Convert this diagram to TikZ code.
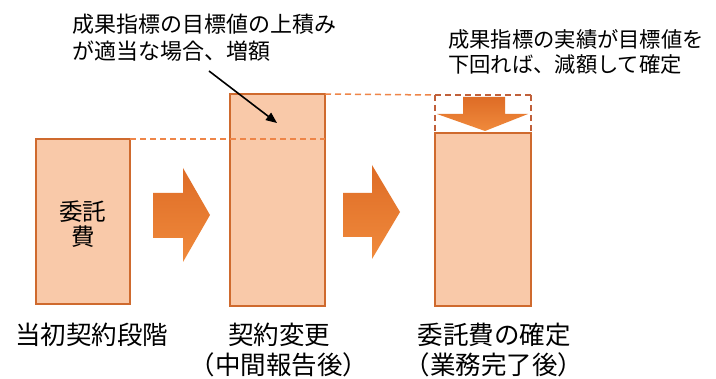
\documentclass[tikz,border=0pt]{standalone}
\usepackage{fontspec}
\setmainfont{Noto Sans CJK JP}
\usetikzlibrary{arrows.meta}
\definecolor{boxfill}{HTML}{F9C9A9}
\definecolor{boxline}{HTML}{CF6A2E}
\definecolor{arrowtop}{HTML}{DE6C26}
\definecolor{arrowbot}{HTML}{F08A3C}
\definecolor{dashor}{HTML}{EE8548}
\definecolor{dashdark}{HTML}{C0603A}
\begin{document}
\begin{tikzpicture}[x=1pt,y=-1pt,
  costbox/.style={draw=boxline,fill=boxfill,line width=1.6pt},
  blockarrow/.style={top color=arrowtop,bottom color=arrowbot,draw=none},
  guide/.style={draw=dashor,line width=1.5pt,dash pattern=on 6pt off 4pt},
  guidedark/.style={draw=dashdark,line width=1.5pt,dash pattern=on 6pt off 4pt},
  lbl/.style={inner sep=0pt,font=\fontsize{25.5}{30}\selectfont},
  note/.style={inner sep=0pt,align=left,anchor=west}]
\useasboundingbox[fill=white] (0,0) rectangle (716,379);
% boxes
\path[costbox] (36,139) rectangle (130,304);
\path[costbox] (230,94) rectangle (325,306);
\path[costbox] (435,133) rectangle (531,306);
\coordinate (b1top) at (130,139);
\coordinate (b2l) at (325,139);
\coordinate (b2top) at (325,94);
\coordinate (b3l) at (435,95);
\coordinate (b3r) at (531,95);
\coordinate (b3lb) at (435,133);
\coordinate (b3rb) at (531,133);
% guides
\draw[guide] (b1top) -- (b2l);
\draw[guide] (b2top) -- (b3l);
\draw[guidedark] (b3l) -- (b3r);
\draw[guidedark] (b3l) -- (b3lb);
\draw[guidedark] (b3r) -- (b3rb);
% block arrows
\path[blockarrow] (153,193) -- (183,193) -- (183,168) -- (210,215) -- (183,262) -- (183,238) -- (153,238) -- cycle;
\path[blockarrow] (343,193) -- (372,193) -- (372,165) -- (400,212) -- (372,259) -- (372,237) -- (343,237) -- cycle;
% down arrow
\path[blockarrow] (463,97) -- (505,97) -- (505,114) -- (528,114) -- (485,131) -- (437,114) -- (463,114) -- cycle;
% box text
\node[inner sep=0pt,align=center,font=\fontsize{23.5}{25}\selectfont] (hi) at (83,224) {委託\\費};
% labels
\node[lbl] (l1) at (92,335) {当初契約段階};
\node[lbl,align=center,font=\fontsize{25.5}{30}\selectfont] (l2) at (279,350) {契約変更\\（中間報告後）};
\node[lbl,align=center,font=\fontsize{25.5}{30}\selectfont] (l3) at (494,350) {委託費の確定\\（業務完了後）};
% notes
\node[note,font=\fontsize{22}{27}\selectfont] (n1) at (72,38) {成果指標の目標値の上積み\\が適当な場合、増額};
\node[note,font=\fontsize{21.3}{25}\selectfont] (n2) at (448,52) {成果指標の実績が目標値を\\下回れば、減額して確定};
% pointer
\coordinate (ps) at (209,71);
\coordinate (pe) at (277,123);
\draw[line width=1.6pt,-{Triangle[length=11pt,width=9pt]}] (ps) -- (pe);
\end{tikzpicture}
\end{document}
